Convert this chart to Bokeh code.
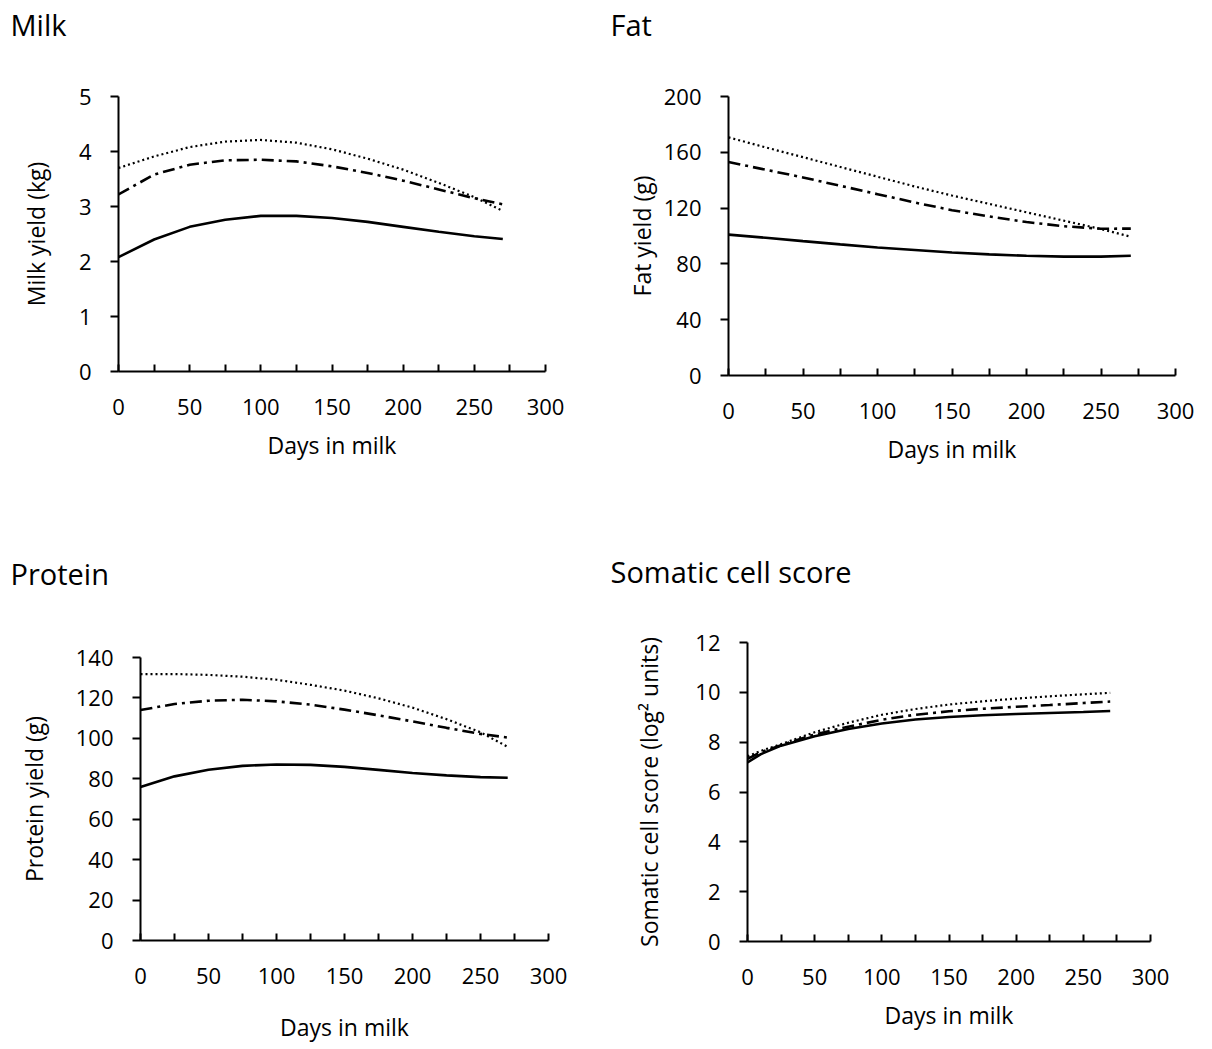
from bokeh.plotting import figure
from bokeh.layouts import column, row
from bokeh.models import Range1d, FixedTicker, Title
from bokeh.embed import file_html
from bokeh.resources import INLINE

# ---------------- data ----------------
days = [0, 25, 50, 75, 100, 125, 150, 175, 200, 225, 250, 270]
scs_days = [0, 10, 25, 50, 75, 100, 125, 150, 175, 200, 225, 250, 270]

milk_solid = [2.08, 2.40, 2.63, 2.76, 2.83, 2.83, 2.79, 2.72, 2.63, 2.54, 2.46, 2.41]
milk_dashdot = [3.22, 3.58, 3.76, 3.84, 3.85, 3.82, 3.73, 3.61, 3.47, 3.31, 3.15, 3.04]
milk_dotted = [3.70, 3.91, 4.08, 4.18, 4.21, 4.16, 4.04, 3.87, 3.67, 3.43, 3.17, 2.92]

fat_solid = [101, 98.7, 96.3, 94.0, 91.8, 90.0, 88.2, 86.8, 85.8, 85.2, 85.2, 85.8]
fat_dashdot = [153, 147.5, 142, 136, 130, 124, 118.5, 114, 110, 107, 105.2, 105.3]
fat_dotted = [170.7, 163.5, 156.5, 149.5, 142.5, 135.5, 129, 123, 117, 111, 105, 99.5]

protein_solid = [75.9, 81.2, 84.5, 86.4, 87.1, 86.9, 85.9, 84.4, 82.9, 81.7, 80.8, 80.5]
protein_dashdot = [114, 117, 118.6, 119.1, 118.3, 116.7, 114.2, 111.4, 108.4, 105.2, 102.2, 100.4]
protein_dotted = [131.8, 131.8, 131.4, 130.5, 129, 126.5, 123.6, 119.8, 115.2, 109.5, 103, 95.8]

scs_solid = [7.19, 7.52, 7.86, 8.24, 8.53, 8.75, 8.91, 9.01, 9.08, 9.13, 9.17, 9.21, 9.25]
scs_dashdot = [7.33, 7.60, 7.88, 8.31, 8.62, 8.90, 9.10, 9.24, 9.34, 9.42, 9.49, 9.57, 9.63]
scs_dotted = [7.43, 7.65, 7.92, 8.40, 8.78, 9.10, 9.33, 9.51, 9.64, 9.75, 9.84, 9.92, 9.98]

x_major = [0, 50, 100, 150, 200, 250, 300]
x_minor = [25, 75, 125, 175, 225, 275]

milk_yticks = [0, 1, 2, 3, 4, 5]
fat_yticks = [0, 40, 80, 120, 160, 200]
protein_yticks = [0, 20, 40, 60, 80, 100, 120, 140]
scs_yticks = [0, 2, 4, 6, 8, 10, 12]

FONT = "Open Sans"


def panel(title, ylabel, xs, solid, dashdot, dotted, yticks,
          width, height, bl, br, bt, bb,
          tick_sx, lab_sx, tick_sy, lab_sy, t_off, t_gap):
    p = figure(width=width, height=height, output_backend="svg",
               toolbar_location=None,
               x_range=Range1d(0, 300), y_range=Range1d(yticks[0], yticks[-1]),
               min_border_left=bl, min_border_right=br,
               min_border_top=bt, min_border_bottom=bb)
    p.outline_line_color = None
    p.grid.visible = False
    p.background_fill_color = "white"
    p.border_fill_color = "white"

    p.line(xs, solid, line_color="black", line_width=2.6)
    p.line(xs, dashdot, line_color="black", line_width=2.6, line_dash="12 5 3 5")
    p.line(xs, dotted, line_color="black", line_width=2.2, line_dash="2 3")

    xa = p.xaxis[0]
    xa.ticker = FixedTicker(ticks=x_major, minor_ticks=x_minor)
    xa.major_tick_in = 7
    xa.major_tick_out = 0
    xa.minor_tick_in = 7
    xa.minor_tick_out = 0
    xa.axis_line_width = 2
    xa.major_tick_line_width = 2
    xa.minor_tick_line_width = 2
    xa.axis_line_color = "black"
    xa.major_tick_line_color = "black"
    xa.minor_tick_line_color = "black"
    xa.major_label_text_font = FONT
    xa.major_label_text_font_size = "22px"
    xa.major_label_text_color = "black"
    xa.major_label_standoff = tick_sx
    xa.axis_label = "Days in milk"
    xa.axis_label_text_font = FONT
    xa.axis_label_text_font_size = "23px"
    xa.axis_label_text_font_style = "normal"
    xa.axis_label_text_color = "black"
    xa.axis_label_standoff = lab_sx

    ya = p.yaxis[0]
    ya.ticker = FixedTicker(ticks=yticks, minor_ticks=[])
    ya.major_tick_in = 0
    ya.major_tick_out = 8
    ya.axis_line_width = 2
    ya.major_tick_line_width = 2
    ya.axis_line_color = "black"
    ya.major_tick_line_color = "black"
    ya.major_label_text_font = FONT
    ya.major_label_text_font_size = "22px"
    ya.major_label_text_color = "black"
    ya.major_label_standoff = tick_sy
    ya.axis_label = ylabel
    ya.axis_label_text_font = FONT
    ya.axis_label_text_font_size = "23px"
    ya.axis_label_text_font_style = "normal"
    ya.axis_label_text_color = "black"
    ya.axis_label_standoff = lab_sy

    # invisible spacer nearest the frame, then the panel heading above it
    p.add_layout(Title(text=" ", standoff=t_gap, text_font_size="1px",
                       text_color="white"), "above")
    p.add_layout(Title(text=title, align="left", offset=t_off, standoff=0,
                       text_font=FONT, text_font_size="29px",
                       text_font_style="normal", text_color="black"), "above")
    return p


p1 = panel("Milk", "Milk yield (kg)", days, milk_solid, milk_dashdot, milk_dotted,
           milk_yticks, 600, 540, 118, 55, 96, 169, 27, 11, 19, 24, -108, 50)
p2 = panel("Fat", "Fat yield (g)", days, fat_solid, fat_dashdot, fat_dotted,
           fat_yticks, 600, 540, 128, 25, 96, 165, 27, 11, 19, 3, -118, 50)
p3 = panel("Protein", "Protein yield (g)", days, protein_solid, protein_dashdot,
           protein_dotted, protein_yticks, 600, 507, 140, 52, 117, 107, 27, 24, 19, 23, -130, 62)
p4 = panel("Somatic cell score", "Somatic cell score (log² units)", scs_days,
           scs_solid, scs_dashdot, scs_dotted, scs_yticks,
           600, 493, 147, 50, 102, 92, 27, 11, 19, 27, -137, 49)

layout = column(row(column(p1), column(p2), spacing=0),
                row(column(p3), column(p4), spacing=0), spacing=0)

open("out.html", "w").write(file_html(layout, INLINE))
